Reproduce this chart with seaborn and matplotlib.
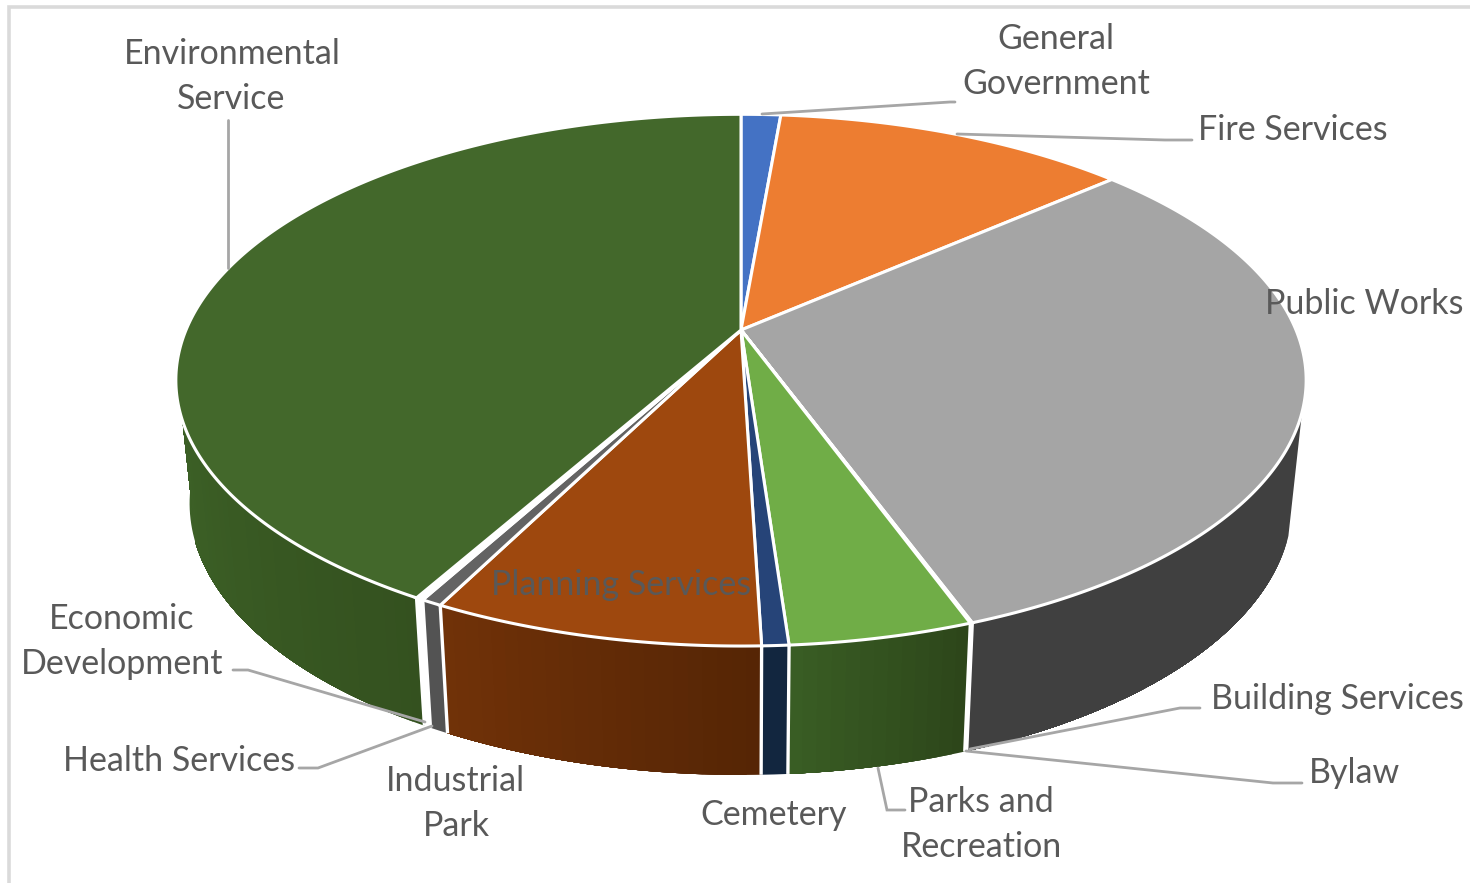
import numpy as np
import matplotlib
matplotlib.use("Agg")
import matplotlib.pyplot as plt
from matplotlib.colors import to_rgb
import seaborn as sns

# Share of the budget per department (percent), clockwise from twelve o'clock
departments = ["General Government", "Fire Services", "Public Works", "Building Services",
               "Bylaw", "Parks and Recreation", "Cemetery", "Planning Services",
               "Industrial Park", "Health Services", "Economic Development", "Environmental Service"]
shares = [1.36, 12.17, 30.90, 0.02, 0.03, 4.40, 0.64, 7.92, 0.50, 0.08, 0.10, 41.88]

top_colors = ["#4472C4", "#ED7D31", "#A5A5A5", "#FFC000", "#5B9BD5", "#70AD47",
              "#264478", "#9E480E", "#636363", "#997300", "#255E91", "#43682B"]
# Side wall colours at the clockwise start and end of each slice
wall_start = ["#2A4580", "#8F4A1C", "#404040", "#404040", "#404040", "#2C451A",
              "#12263F", "#552505", "#4E4E4E", "#FFFFFF", "#FFFFFF", "#34511F"]
wall_end = ["#2A4580", "#8F4A1C", "#404040", "#404040", "#404040", "#3A5E24",
            "#12263F", "#713208", "#585858", "#FFFFFF", "#FFFFFF", "#3C6026"]

TEXT = "#595959"
LEADER = "#A6A6A6"

sns.set_theme(style="white")
plt.rcParams["font.family"] = ["Lato", "DejaVu Sans"]
palette = sns.color_palette(top_colors)

fig = plt.figure(figsize=(14.7, 8.83), dpi=100)
ax = fig.add_axes([0, 0, 1, 1])
ax.set_xlim(0, 1470)
ax.set_ylim(883, 0)
ax.axis("off")

# Chart frame: only the top and left sides fall inside the image
ax.plot([9, 9, 1470], [883, 6.7, 6.7], color="#DADADA", lw=2.6, zorder=0,
        solid_joinstyle="miter")

# Perspective projection of the unit disc for the top face and the base of the pie
TILT = 0.1887
CX = 741.0


def project(theta_deg, a, b, apex_y):
    t = np.radians(theta_deg)
    u, v = np.sin(t), -np.cos(t)
    w = 1 - TILT * v
    return CX + a * u / w, apex_y + b * v / w


def top_rim(t):
    return project(t, 555.0, 256.4, 330.0)


def base_rim(t):
    return project(t, 541.5, 262.0, 452.0)


fractions = np.asarray(shares) / np.sum(shares)
edges = np.concatenate([[0.0], np.cumsum(fractions)]) * 360.0
FRONT_START, FRONT_END = 107.6, 250.7
BASE_END = 264.0

# Side walls: each band repaints the rest of its slice, so neighbouring shades leave no seam
for i in range(len(shares)):
    lo, hi = max(edges[i], FRONT_START), min(edges[i + 1], FRONT_END)
    if hi <= lo:
        continue
    n = max(1, int((hi - lo) / 1.2))
    ts = np.linspace(lo, hi, n + 1)
    c0, c1 = np.array(to_rgb(wall_start[i])), np.array(to_rgb(wall_end[i]))
    for j in range(n):
        col = c0 + (c1 - c0) * (j + 0.5) / n
        seg = np.linspace(ts[j], hi, max(3, (n - j) * 2))
        tx, ty = top_rim(seg)
        bx, by = base_rim(seg)
        ax.fill(np.r_[tx, bx[::-1]], np.r_[ty, by[::-1]], color=col, lw=0, zorder=2)
    if edges[i + 1] >= FRONT_END:
        # Outline of the base beyond the top rim's turning point on the left
        seg = np.linspace(FRONT_END, BASE_END, 14)
        bx, by = base_rim(seg)
        tx, ty = top_rim(FRONT_END)
        ax.fill(np.r_[tx, bx], np.r_[ty, by], color=c1, lw=0, zorder=2)

for e in edges:
    if FRONT_START < e < FRONT_END:
        tx, ty = top_rim(e)
        bx, by = base_rim(e)
        ax.plot([tx, bx], [ty, by], color="white", lw=2.4, zorder=3, solid_capstyle="butt")

# Top face
for i in range(len(shares)):
    arc = np.linspace(edges[i], edges[i + 1], max(3, int(shares[i] * 8)))
    x, y = top_rim(arc)
    ax.fill(np.r_[CX, x], np.r_[330.0, y], facecolor=palette[i], edgecolor="white",
            lw=2.2, joinstyle="miter", zorder=4)

# Leader lines
leaders = [
    ([228, 228], [120, 268]),
    ([762, 950, 955], [114, 102, 102]),
    ([957, 1165, 1192], [134, 140, 140]),
    ([970, 1180, 1200], [749, 708, 708]),
    ([966, 1273, 1302], [751, 783, 783]),
    ([878, 887, 905], [768, 810, 810]),
    ([233, 248, 425], [670, 670, 722]),
    ([299, 318, 432], [768, 768, 726]),
]
for lx, ly in leaders:
    ax.plot(lx, ly, color=LEADER, lw=2.0, zorder=5, solid_joinstyle="miter")

# Department labels
labels = [
    (232, 54, "Environmental"), (231, 99, "Service"),
    (1056, 39, "General"), (1056, 84, "Government"),
    (1293, 130, "Fire Services"), (1364, 304, "Public Works"),
    (1337, 699, "Building Services"), (1355, 773, "Bylaw"),
    (981, 802, "Parks and"), (982, 847, "Recreation"),
    (774, 815, "Cemetery"), (621, 585, "Planning Services"),
    (455, 781, "Industrial"), (456, 826, "Park"),
    (179, 761, "Health Services"),
    (122, 619, "Economic"), (122, 664, "Development"),
]
for x, y, s in labels:
    ax.text(x, y, s, color=TEXT, fontsize=24.5, ha="center", va="center", zorder=6)

fig.savefig("out.png", dpi=100)
